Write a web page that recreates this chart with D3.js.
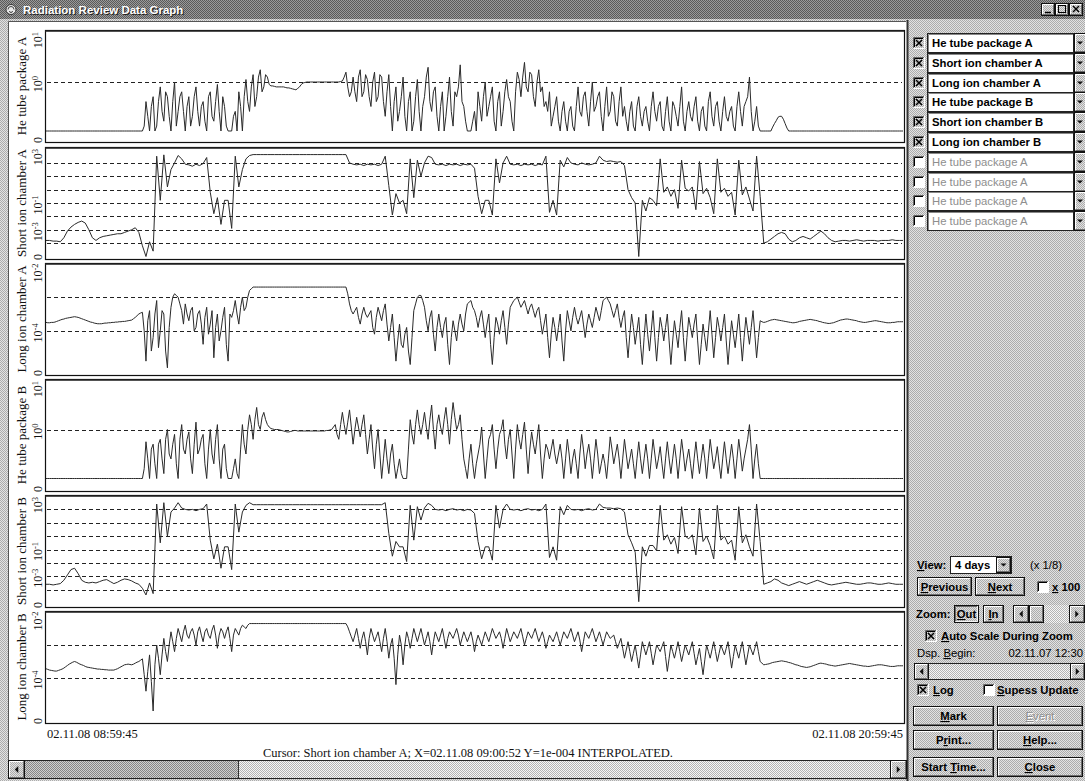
<!DOCTYPE html>
<html>
<head>
<meta charset="utf-8">
<title>Radiation Review Data Graph</title>
<script src="https://cdn.jsdelivr.net/npm/d3@7"></script>
<style>
  html, body { margin: 0; padding: 0; background: #c9c9c9; overflow: hidden; }
  svg { display: block; }
  .ui { font-family: "Liberation Sans", Arial, sans-serif; font-weight: bold; font-size: 11.3px; }
  .serif { font-family: "Liberation Serif", "Times New Roman", serif; }
</style>
</head>
<body>
<svg id="app" width="1085" height="781"></svg>
<script>
// ---- time window and captions ----
const startStamp = "02.11.08 08:59:45";
const endStamp = "02.11.08 20:59:45";
const spanHours = 12;
const cursorText = "Cursor: Short ion chamber A; X=02.11.08 09:00:52 Y=1e-004 INTERPOLATED.";
const displayBegin = "02.11.07 12:30";

const channels = ["He tube package A", "Short ion chamber A", "Long ion chamber A",
                  "He tube package B", "Short ion chamber B", "Long ion chamber B"];
const spareSlots = ["He tube package A", "He tube package A", "He tube package A", "He tube package A"];

// log axis extent (decades) and the decades that carry a label
const decadeRange = [[-1, 1], [-5, 3], [-5, -2], [-1, 1], [-5, 3], [-5, -2]];
const labelledDecades = [[1, 0], [3, -1, -3], [-2, -4], [1, 0], [3, -1, -3], [-2, -4]];

// ---- readings: log10 of each value, one sample every 3 minutes ----
const heTubeA = [
  -1,-1,-1,-1,-1,-1,-1,-1,-1,-1,
  -1,-1,-1,-1,-1,-1,-1,-1,-1,-1,
  -1,-1,-1,-1,-1,-1,-1,-1,-0.4,-1,
  -0.3,-0.9,-0.1,-0.8,-0.3,-1,0,-0.6,-0.2,-1,
  -0.3,-0.7,-0.1,-0.9,-0.4,-1,-0.2,-0.8,-0.05,-1,
  -0.5,-1,-1,-0.6,-0.2,-1,0.05,-0.6,0.15,-0.3,
  0.25,-0.1,0.1,-0.08,-0.09,-0.1,-0.1,-0.11,-0.12,-0.14,
  -0.16,-0.1,-0.02,0,0,0,0,0,0,0,
  0,0,0,0.02,0.2,-0.3,0.1,-0.4,0.25,-0.2,
  0.05,-0.5,0.2,-0.3,0.1,-0.7,0.15,-1,-0.1,-0.6,
  0.1,-1,-0.2,-0.8,0.05,-1,-0.3,0.3,-0.6,-0.1,
  -1,-0.2,-0.7,0.1,-0.9,-0.3,0.35,-0.5,-1,-1,
  -0.6,-0.2,-0.8,0,-0.5,-0.1,-1,-0.2,-0.6,0.05,
  -0.4,-1,0.2,-0.3,0.4,-0.2,0.15,-0.5,0.25,-0.1,
  -0.4,-0.2,-0.7,-0.3,-1,-0.4,-1,-0.5,-1,-0.1,
  -0.7,-0.2,-0.9,0,-0.5,-0.2,-1,-0.1,-0.6,-0.3,
  -0.9,-0.1,-0.5,-1,-0.4,-1,-0.3,-0.9,-0.5,-1,
  -0.2,-0.8,-0.4,-1,-0.3,-1,-0.5,-0.9,-0.1,-1,
  -0.4,-0.8,-0.3,-1,-0.5,-1,-0.2,-0.9,-0.4,-1,
  -0.3,-0.8,-0.5,-1,-0.2,-0.9,-0.4,0.1,-1,-0.5,
  -1,-1,-1,-1,-0.85,-0.72,-0.7,-0.85,-1,-1,
  -1,-1,-1,-1,-1,-1,-1,-1,-1,-1,
  -1,-1,-1,-1,-1,-1,-1,-1,-1,-1,
  -1,-1,-1,-1,-1,-1,-1,-1,-1,-1,
  -1
];
// readings taken half-way between the samples above
const heTubeAHalf = [
  -1,-1,-1,-1,-1,-1,-1,-1,-1,-1,
  -1,-1,-1,-1,-1,-1,-1,-1,-1,-1,
  -1,-1,-1,-1,-1,-1,-1,-0.9,-0.7,-0.5,
  -1,-0.4,-0.6,-0.2,-0.7,-0.4,-0.9,-0.3,-0.6,-0.5,
  -0.9,-0.3,-0.6,-0.5,-0.8,-0.3,-0.7,-0.4,-0.6,-0.3,
  -0.9,-1,-0.7,-1,-0.5,-0.3,-0.4,-0.1,-0.5,0.1,
  -0.2,0.15,-0.05,-0.08,-0.1,-0.1,-0.1,-0.12,-0.13,-0.15,
  -0.13,-0.05,-0.01,0,0,0,0,0,0,0,
  0,0,0.01,0.1,-0.1,-0.2,-0.2,0.1,-0.3,0.15,
  -0.3,0,-0.4,0.15,-0.4,-0.2,-0.5,-0.4,-0.8,-0.3,
  -0.7,-0.4,-1,-0.3,-0.6,-0.5,0.1,-0.4,-0.2,-0.7,
  -0.5,-1,-0.3,-0.6,-0.2,-0.1,-0.4,-0.8,-1,-0.8,
  -1,-0.5,-0.3,-0.7,-0.3,-0.8,-0.4,-0.9,-0.2,-0.3,
  -0.8,-0.2,0.05,0.1,-0.1,0.2,-0.3,0,-0.2,-0.5,
  -0.6,-0.9,-0.5,-0.8,-0.6,-0.8,-0.6,-0.9,-0.5,-0.6,
  -0.3,-0.6,-0.4,-0.6,-0.3,-0.7,-0.5,-0.7,-0.2,-0.8,
  -0.4,-0.7,-0.8,-0.6,-0.9,-0.5,-0.7,-0.6,-0.8,-0.5,
  -0.6,-0.5,-0.9,-0.6,-0.8,-0.4,-0.7,-0.5,-0.8,-0.6,
  -0.7,-0.5,-0.8,-0.6,-0.9,-0.4,-0.7,-0.5,-0.8,-0.6,
  -0.7,-0.6,-0.9,-0.5,-0.6,-0.5,-0.3,-0.6,-0.8,-0.9,
  -1,-1,-1,-0.92,-0.79,-0.7,-0.76,-0.94,-1,-1,
  -1,-1,-1,-1,-1,-1,-1,-1,-1,-1,
  -1,-1,-1,-1,-1,-1,-1,-1,-1,-1,
  -1,-1,-1,-1,-1,-1,-1,-1,-1,-1
];
const shortIonA = [
  -3.8,-3.8,-3.85,-3.85,-3.9,-3.6,-3.1,-2.8,-2.6,-2.45,
  -2.35,-2.5,-3.0,-3.6,-3.8,-3.6,-3.5,-3.45,-3.4,-3.35,
  -3.3,-3.3,-3.2,-3.1,-3.0,-2.85,-3.2,-4.2,-5.0,-3.9,
  -4.6,2.5,-0.8,2.6,0.2,1.5,2.0,2.55,2.3,1.9,
  1.85,1.75,1.9,1.8,1.95,2.4,-0.2,-1.8,-0.6,-2.6,
  -0.8,-0.8,-2.9,2.5,0.2,1.5,2.3,2.55,2.62,2.62,
  2.62,2.62,2.62,2.62,2.62,2.62,2.62,2.62,2.62,2.62,
  2.62,2.62,2.62,2.62,2.62,2.62,2.62,2.62,2.62,2.62,
  2.62,2.62,2.62,2.62,2.62,2.0,1.9,1.85,1.9,1.8,
  1.9,1.85,1.9,1.8,1.9,2.5,0.3,-1.9,-0.3,-1.0,
  -0.8,-1.8,2.3,-0.6,2.2,1.0,2.0,2.5,2.4,1.9,
  1.85,1.9,1.8,1.9,1.85,1.9,1.8,1.9,1.85,1.9,
  1.6,-0.5,-1.8,-0.8,-0.8,-1.9,2.3,0.5,2.0,2.5,
  1.9,1.85,1.9,1.8,1.9,1.85,1.9,1.8,1.9,1.85,
  2.5,-1.7,-0.8,-1.9,2.2,1.7,2.4,2.0,1.9,1.85,
  2.0,1.9,1.85,1.9,2.0,2.5,2.2,2.1,2.15,2.1,
  2.05,2.1,1.8,0.0,-0.6,-1.0,-5.0,-0.8,-1.6,-0.6,
  -0.8,-1.2,2.3,-0.2,0.2,-0.5,0.0,-1.4,2.2,0.1,
  -0.1,0.2,-1.5,2.1,-0.3,0.1,-0.6,-1.8,2.3,-0.2,
  0.1,-0.5,-0.2,-1.9,2.2,-0.4,0.2,-0.7,-1.6,2.5,
  -0.5,-4.0,-3.9,-3.7,-3.5,-3.3,-3.2,-3.3,-3.7,-3.9,
  -3.8,-3.6,-3.5,-3.6,-3.7,-3.5,-3.3,-3.1,-3.3,-3.6,
  -3.8,-3.9,-3.85,-3.8,-3.8,-3.85,-3.8,-3.75,-3.8,-3.85,
  -3.8,-3.8,-3.8,-3.85,-3.8,-3.8,-3.8,-3.75,-3.8,-3.8,
  -3.8
];
const longIonA = [
  -3.75,-3.76,-3.75,-3.72,-3.68,-3.65,-3.62,-3.6,-3.58,-3.6,
  -3.64,-3.68,-3.72,-3.75,-3.78,-3.79,-3.78,-3.77,-3.76,-3.75,
  -3.74,-3.73,-3.72,-3.7,-3.68,-3.6,-3.5,-3.45,-4.9,-3.4,
  -4.2,-3.1,-4.0,-3.5,-5.1,-3.3,-2.9,-3.0,-3.4,-3.2,
  -3.7,-3.3,-3.9,-3.4,-4.4,-3.3,-3.8,-4.8,-3.5,-4.0,
  -3.3,-4.9,-3.6,-3.1,-3.8,-3.0,-3.3,-2.8,-2.7,-2.7,
  -2.7,-2.7,-2.7,-2.7,-2.7,-2.7,-2.7,-2.7,-2.7,-2.7,
  -2.7,-2.7,-2.7,-2.7,-2.7,-2.7,-2.7,-2.7,-2.7,-2.7,
  -2.7,-2.7,-2.7,-2.7,-2.7,-3.2,-3.5,-3.3,-3.8,-3.3,
  -3.6,-3.4,-4.1,-3.3,-3.7,-3.2,-4.3,-3.5,-4.9,-3.8,
  -4.5,-3.9,-5.0,-3.4,-3.0,-2.95,-3.3,-4.0,-3.4,-4.6,
  -3.5,-4.2,-3.6,-5.0,-3.7,-4.3,-3.5,-4.0,-3.2,-3.1,
  -3.4,-3.9,-3.4,-4.2,-3.5,-5.0,-3.6,-4.1,-3.4,-4.4,
  -3.3,-3.1,-3.0,-3.3,-3.1,-3.5,-3.2,-3.6,-3.3,-4.1,
  -3.5,-4.8,-3.6,-4.3,-3.5,-4.9,-3.4,-4.0,-3.3,-3.8,
  -3.4,-4.2,-3.5,-3.9,-3.3,-3.7,-3.1,-3.0,-3.2,-3.6,
  -3.2,-3.9,-3.4,-4.8,-3.5,-4.4,-3.6,-5.0,-3.5,-4.6,
  -3.4,-4.9,-3.6,-4.3,-3.5,-5.0,-3.7,-4.5,-3.4,-4.9,
  -3.6,-4.2,-3.5,-5.0,-3.8,-4.6,-3.4,-4.8,-3.6,-4.3,
  -3.5,-5.0,-3.7,-4.5,-3.5,-4.9,-3.6,-4.4,-3.4,-4.8,
  -3.7,-3.75,-3.72,-3.68,-3.66,-3.68,-3.7,-3.72,-3.74,-3.76,
  -3.75,-3.72,-3.7,-3.68,-3.66,-3.68,-3.7,-3.73,-3.76,-3.78,
  -3.77,-3.74,-3.7,-3.67,-3.65,-3.66,-3.68,-3.7,-3.73,-3.75,
  -3.74,-3.72,-3.7,-3.71,-3.73,-3.75,-3.76,-3.75,-3.74,-3.73,
  -3.73
];
const longIonAHalf = [
  -3.76,-3.75,-3.74,-3.7,-3.66,-3.63,-3.61,-3.59,-3.59,-3.62,
  -3.66,-3.7,-3.74,-3.77,-3.79,-3.79,-3.77,-3.76,-3.75,-3.74,
  -3.73,-3.72,-3.71,-3.69,-3.64,-3.55,-3.47,-4.0,-3.7,-4.6,
  -3.5,-4.5,-3.4,-4.6,-3.9,-3.0,-2.95,-3.2,-3.8,-3.5,
  -3.4,-4.0,-3.5,-3.8,-3.6,-4.1,-3.4,-3.9,-4.3,-3.6,
  -4.4,-3.5,-3.4,-3.5,-3.3,-3.4,-3.0,-2.75,-2.7,-2.7,
  -2.7,-2.7,-2.7,-2.7,-2.7,-2.7,-2.7,-2.7,-2.7,-2.7,
  -2.7,-2.7,-2.7,-2.7,-2.7,-2.7,-2.7,-2.7,-2.7,-2.7,
  -2.7,-2.7,-2.7,-2.7,-2.9,-3.4,-3.4,-3.6,-3.5,-3.5,
  -3.5,-3.9,-3.6,-3.5,-3.4,-3.8,-3.9,-4.2,-4.3,-4.4,
  -4.1,-4.6,-4.2,-3.2,-2.95,-3.1,-3.7,-3.6,-4.1,-3.9,
  -3.9,-3.8,-4.4,-4.2,-4.0,-3.8,-3.8,-3.5,-3.15,-3.3,
  -3.6,-3.6,-3.8,-3.8,-4.4,-4.2,-3.8,-3.7,-3.9,-3.8,
  -3.2,-3.05,-3.15,-3.2,-3.3,-3.3,-3.4,-3.4,-3.7,-3.8,
  -4.2,-4.1,-3.9,-3.9,-4.3,-4.0,-3.7,-3.6,-3.6,-3.6,
  -3.8,-3.8,-3.7,-3.6,-3.5,-3.4,-3.05,-3.1,-3.4,-3.4,
  -3.6,-3.6,-4.2,-4.1,-3.9,-4.0,-4.4,-4.2,-4.1,-4.0,
  -4.2,-4.2,-3.9,-3.9,-4.3,-4.3,-4.1,-3.9,-4.2,-4.2,
  -3.9,-3.8,-4.3,-4.4,-4.2,-4.0,-4.1,-4.2,-3.9,-3.9,
  -4.3,-4.3,-4.1,-4.0,-4.2,-4.2,-4.0,-3.9,-4.1,-4.2,
  -3.73,-3.74,-3.7,-3.67,-3.67,-3.69,-3.71,-3.73,-3.75,-3.76,
  -3.74,-3.71,-3.69,-3.67,-3.67,-3.69,-3.72,-3.75,-3.77,-3.78,
  -3.76,-3.72,-3.68,-3.66,-3.65,-3.67,-3.69,-3.72,-3.74,-3.75,
  -3.73,-3.71,-3.7,-3.72,-3.74,-3.76,-3.76,-3.75,-3.73,-3.73
];
const heTubeB = [
  -1,-1,-1,-1,-1,-1,-1,-1,-1,-1,
  -1,-1,-1,-1,-1,-1,-1,-1,-1,-1,
  -1,-1,-1,-1,-1,-1,-1,-1,-0.25,-1,
  -0.3,-1,-0.2,-0.9,0,-0.6,-0.1,-1,0.1,-0.5,
  -0.05,-0.9,0.15,-0.4,-0.1,-1,0,-0.7,0.1,-1,
  -0.3,-1,-1,-0.6,-1,0.1,-0.5,0.3,-0.2,0.45,
  0,0.35,0.1,0.02,0,0,-0.02,-0.04,-0.05,-0.03,
  -0.02,-0.03,-0.03,-0.03,-0.03,-0.03,-0.03,-0.03,-0.03,-0.02,
  0,0.1,-0.2,0.35,-0.1,0.4,-0.3,0.25,-0.15,0.3,
  -0.5,0.1,-0.8,0,-1,-0.2,-0.9,-0.3,-1,-0.6,
  -1,-1,0.2,-0.3,0.4,-0.1,0.35,-0.2,0.5,-0.4,
  0.3,-0.1,0.45,-0.3,0.55,0,0.3,-0.6,-1,-0.3,
  -1,-0.5,0.05,-1,-0.2,0.1,-0.8,-0.1,0.2,-0.6,
  0,-1,0.1,-0.4,0.15,-0.9,-0.05,-0.5,0.1,-1,
  -0.3,-0.6,-0.2,-0.7,-0.3,-1,-0.2,-0.9,-0.4,-1,
  -0.1,-0.8,-0.3,-1,-0.2,-0.9,-0.5,-1,-0.15,-0.7,
  -0.3,-1,-0.2,-0.8,-0.4,-1,-0.25,-0.9,-0.3,-1,
  -0.2,-0.8,-0.35,-1,-0.25,-0.9,-0.3,-1,-0.2,-0.85,
  -0.4,-1,-0.25,-0.9,-0.3,-1,-0.2,-0.8,-0.35,-1,
  -0.25,-0.9,-0.3,-1,-0.2,-0.85,-0.4,0.1,-1,-0.3,
  -1,-1,-1,-1,-1,-1,-1,-1,-1,-1,
  -1,-1,-1,-1,-1,-1,-1,-1,-1,-1,
  -1,-1,-1,-1,-1,-1,-1,-1,-1,-1,
  -1,-1,-1,-1,-1,-1,-1,-1,-1,-1,
  -1
];
const heTubeBHalf = [
  -1,-1,-1,-1,-1,-1,-1,-1,-1,-1,
  -1,-1,-1,-1,-1,-1,-1,-1,-1,-1,
  -1,-1,-1,-1,-1,-1,-1,-0.8,-0.6,-0.4,
  -0.7,-0.3,-0.6,-0.2,-0.5,-0.3,-0.7,-0.2,-0.4,-0.2,
  -0.6,-0.3,-0.5,-0.2,-0.7,-0.4,-0.5,-0.2,-0.6,-0.4,
  -0.8,-1,-0.8,-0.9,-0.4,-0.3,0,0.1,0.2,0.1,
  0.25,0.2,0.05,0.01,0,-0.01,-0.03,-0.05,-0.04,-0.02,
  -0.03,-0.03,-0.03,-0.03,-0.03,-0.03,-0.03,-0.03,-0.02,-0.01,
  0.05,-0.1,0.1,0.1,0.15,0.05,0,0.05,0.1,-0.1,
  -0.2,-0.4,-0.3,-0.5,-0.6,-0.6,-0.5,-0.7,-0.8,-0.9,
  -1,-0.4,-0.1,0.1,0.1,0.1,0.05,0.2,0,0.1,
  0.05,0.2,0.1,0.2,0.25,0.1,-0.2,-0.8,-0.6,-0.7,
  -0.7,-0.3,-0.5,-0.6,-0.1,-0.4,-0.4,0,-0.3,-0.2,
  -0.5,-0.4,-0.2,-0.1,-0.4,-0.4,-0.3,-0.2,-0.5,-0.6,
  -0.4,-0.4,-0.5,-0.5,-0.6,-0.6,-0.5,-0.6,-0.7,-0.5,
  -0.4,-0.5,-0.6,-0.6,-0.5,-0.7,-0.7,-0.6,-0.4,-0.5,
  -0.6,-0.6,-0.5,-0.6,-0.7,-0.6,-0.6,-0.6,-0.6,-0.6,
  -0.5,-0.6,-0.7,-0.6,-0.6,-0.6,-0.6,-0.6,-0.5,-0.6,
  -0.7,-0.6,-0.6,-0.6,-0.6,-0.6,-0.5,-0.6,-0.7,-0.6,
  -0.6,-0.6,-0.6,-0.6,-0.5,-0.6,-0.2,-0.4,-0.6,-0.7,
  -1,-1,-1,-1,-1,-1,-1,-1,-1,-1,
  -1,-1,-1,-1,-1,-1,-1,-1,-1,-1,
  -1,-1,-1,-1,-1,-1,-1,-1,-1,-1,
  -1,-1,-1,-1,-1,-1,-1,-1,-1,-1
];
const shortIonB = [
  -3.6,-3.6,-3.65,-3.6,-3.55,-3.3,-2.9,-2.5,-2.4,-2.8,
  -3.3,-3.45,-3.5,-3.45,-3.5,-3.4,-3.3,-3.25,-3.4,-3.55,
  -3.45,-3.3,-3.2,-3.25,-3.35,-3.5,-3.6,-3.9,-4.4,-3.5,
  -4.3,2.4,-0.5,2.5,0.0,1.8,2.1,2.5,2.1,2.0,
  1.95,2.0,1.9,2.0,2.05,2.4,-0.3,-1.7,-0.6,-2.4,
  -0.8,-0.8,-2.5,2.4,0.3,1.8,2.3,2.5,2.35,2.35,
  2.35,2.35,2.35,2.35,2.35,2.35,2.35,2.35,2.35,2.35,
  2.35,2.35,2.35,2.35,2.35,2.35,2.35,2.35,2.35,2.35,
  2.35,2.35,2.35,2.35,2.35,2.35,2.35,2.35,2.35,2.35,
  2.35,2.35,2.35,2.35,2.35,2.5,0.2,-1.5,-0.4,-0.8,
  -0.8,-1.9,2.3,-0.3,2.2,1.2,2.1,2.45,2.3,2.0,
  1.95,2.0,1.9,2.0,2.05,1.95,2.0,1.9,2.0,1.95,
  1.7,-0.4,-1.7,-0.8,-0.8,-1.8,2.3,0.6,2.0,2.4,
  2.0,1.95,2.0,1.9,2.0,2.05,1.95,2.0,1.9,2.0,
  2.4,-1.6,-0.8,-1.8,2.2,1.6,2.3,2.0,1.95,2.0,
  1.9,2.0,2.05,1.95,2.0,2.4,2.15,2.1,2.1,2.05,
  2.1,2.05,1.8,0.1,-0.5,-1.2,-4.9,-0.8,-1.5,-0.7,
  -0.7,-1.1,2.3,-0.3,0.1,-0.6,-0.1,-1.3,2.2,0.0,
  -0.2,0.1,-1.4,2.1,-0.4,0.0,-0.7,-1.7,2.3,-0.3,
  0.0,-0.6,-0.3,-1.8,2.2,-0.5,0.1,-0.8,-1.5,2.4,
  -0.4,-3.6,-3.5,-3.4,-3.2,-3.3,-3.5,-3.6,-3.7,-3.6,
  -3.5,-3.4,-3.5,-3.6,-3.5,-3.4,-3.3,-3.4,-3.5,-3.6,
  -3.65,-3.6,-3.55,-3.5,-3.45,-3.5,-3.55,-3.6,-3.6,-3.55,
  -3.5,-3.5,-3.55,-3.6,-3.6,-3.55,-3.5,-3.55,-3.6,-3.6,
  -3.6
];
const longIonB = [
  -3.72,-3.76,-3.78,-3.79,-3.75,-3.7,-3.62,-3.55,-3.5,-3.55,
  -3.6,-3.65,-3.68,-3.7,-3.72,-3.73,-3.74,-3.75,-3.76,-3.76,
  -3.72,-3.66,-3.6,-3.58,-3.6,-3.55,-3.5,-3.42,-4.4,-3.3,
  -5.0,-3.0,-3.9,-2.8,-3.5,-2.6,-3.2,-2.5,-2.9,-2.4,
  -2.8,-2.5,-3.0,-2.45,-2.9,-2.5,-2.8,-2.4,-3.1,-2.5,
  -2.8,-2.45,-3.2,-2.5,-2.7,-2.4,-2.5,-2.35,-2.35,-2.35,
  -2.35,-2.35,-2.35,-2.35,-2.35,-2.35,-2.35,-2.35,-2.35,-2.35,
  -2.35,-2.35,-2.35,-2.35,-2.35,-2.35,-2.35,-2.35,-2.35,-2.35,
  -2.35,-2.35,-2.35,-2.35,-2.35,-2.6,-2.9,-2.5,-3.1,-2.6,
  -3.3,-2.5,-2.9,-2.6,-3.2,-2.5,-3.4,-2.8,-4.2,-2.7,
  -3.6,-2.6,-3.1,-2.5,-2.9,-2.5,-3.0,-2.6,-3.3,-2.6,
  -2.9,-2.5,-3.1,-2.6,-2.8,-2.5,-3.0,-2.6,-2.9,-2.6,
  -3.2,-2.7,-3.0,-2.6,-2.9,-2.5,-2.8,-2.6,-3.1,-2.5,
  -2.9,-2.6,-2.8,-2.5,-3.0,-2.6,-2.8,-2.5,-2.9,-2.6,
  -3.1,-2.7,-2.9,-2.6,-3.0,-2.6,-2.8,-2.5,-2.9,-2.6,
  -3.2,-2.6,-2.8,-2.5,-2.9,-2.6,-3.0,-2.6,-2.8,-2.7,
  -3.1,-2.8,-3.4,-2.9,-3.5,-3.0,-3.7,-2.9,-3.3,-2.9,
  -3.6,-3.0,-3.2,-2.9,-3.8,-3.0,-3.4,-2.9,-3.5,-3.0,
  -3.3,-2.9,-3.6,-3.1,-3.9,-3.0,-3.4,-2.9,-3.5,-3.0,
  -3.3,-2.9,-3.7,-3.0,-3.4,-2.9,-3.6,-3.0,-3.3,-2.9,
  -3.5,-3.6,-3.58,-3.55,-3.52,-3.5,-3.48,-3.5,-3.53,-3.56,
  -3.6,-3.63,-3.66,-3.68,-3.66,-3.62,-3.58,-3.55,-3.57,-3.6,
  -3.62,-3.64,-3.62,-3.6,-3.58,-3.56,-3.58,-3.6,-3.62,-3.64,
  -3.65,-3.64,-3.62,-3.6,-3.6,-3.62,-3.64,-3.65,-3.64,-3.63,
  -3.63
];
const longIonBHalf = [
  -3.74,-3.77,-3.79,-3.77,-3.73,-3.66,-3.58,-3.52,-3.52,-3.58,
  -3.62,-3.67,-3.69,-3.71,-3.73,-3.74,-3.75,-3.76,-3.76,-3.74,
  -3.69,-3.63,-3.59,-3.59,-3.58,-3.52,-3.46,-3.9,-3.8,-4.1,
  -3.6,-3.4,-3.3,-3.2,-3.0,-2.9,-2.8,-2.7,-2.6,-2.7,
  -2.6,-2.7,-2.6,-2.7,-2.6,-2.7,-2.55,-2.7,-2.7,-2.6,
  -2.6,-2.8,-2.7,-2.6,-2.5,-2.45,-2.4,-2.35,-2.35,-2.35,
  -2.35,-2.35,-2.35,-2.35,-2.35,-2.35,-2.35,-2.35,-2.35,-2.35,
  -2.35,-2.35,-2.35,-2.35,-2.35,-2.35,-2.35,-2.35,-2.35,-2.35,
  -2.35,-2.35,-2.35,-2.35,-2.45,-2.75,-2.7,-2.8,-2.8,-2.9,
  -2.8,-2.7,-2.75,-2.9,-2.8,-2.9,-3.0,-3.4,-3.3,-3.0,
  -3.0,-2.8,-2.8,-2.7,-2.7,-2.75,-2.8,-2.9,-2.9,-2.75,
  -2.7,-2.8,-2.8,-2.7,-2.65,-2.7,-2.8,-2.75,-2.75,-2.85,
  -2.9,-2.85,-2.8,-2.75,-2.7,-2.65,-2.7,-2.8,-2.8,-2.7,
  -2.75,-2.7,-2.65,-2.75,-2.8,-2.7,-2.65,-2.7,-2.75,-2.8,
  -2.9,-2.8,-2.75,-2.8,-2.8,-2.7,-2.65,-2.7,-2.75,-2.85,
  -2.9,-2.7,-2.65,-2.7,-2.75,-2.8,-2.8,-2.7,-2.75,-2.9,
  -2.95,-3.1,-3.15,-3.2,-3.25,-3.35,-3.3,-3.1,-3.1,-3.25,
  -3.3,-3.1,-3.05,-3.35,-3.4,-3.2,-3.15,-3.2,-3.25,-3.15,
  -3.1,-3.25,-3.35,-3.5,-3.45,-3.2,-3.15,-3.2,-3.25,-3.15,
  -3.1,-3.3,-3.35,-3.2,-3.15,-3.25,-3.3,-3.15,-3.1,-3.2,
  -3.55,-3.59,-3.57,-3.53,-3.51,-3.49,-3.49,-3.51,-3.54,-3.58,
  -3.61,-3.65,-3.67,-3.67,-3.64,-3.6,-3.56,-3.56,-3.58,-3.61,
  -3.63,-3.63,-3.61,-3.59,-3.57,-3.57,-3.59,-3.61,-3.63,-3.64,
  -3.65,-3.63,-3.61,-3.6,-3.61,-3.63,-3.65,-3.65,-3.63,-3.63
];
const series = [heTubeA, shortIonA, longIonA, heTubeB, shortIonB, longIonB];
const halfSeries = [heTubeAHalf, null, longIonAHalf, heTubeBHalf, null, longIonBHalf];

// ---- layout ----
const W = 1085, H = 781;
const plotLeft = 45, plotRight = 904;
const panelTop = [30, 147, 263, 379, 495, 611];
const panelH = 112;
// pixel inset of the top and bottom decade inside each panel
const decadeInset = [[3, 101], [2.5, 109.5], [0.5, 101.5], [1.5, 99.5], [1, 108], [1, 100]];

const svg = d3.select("#app");
const defs = svg.append("defs");

function dither(id, base, dot) {
  const p = defs.append("pattern").attr("id", id).attr("width", 2).attr("height", 2)
    .attr("patternUnits", "userSpaceOnUse");
  p.append("rect").attr("width", 2).attr("height", 2).attr("fill", base);
  p.append("rect").attr("width", 1).attr("height", 1).attr("fill", dot);
  p.append("rect").attr("x", 1).attr("y", 1).attr("width", 1).attr("height", 1).attr("fill", dot);
}
dither("face", "#e2e2e2", "#acacac");
dither("title", "#9a9a9a", "#5a5a5a");
dither("track", "#f6f6f6", "#b4b4b4");
dither("trackDark", "#cfcfcf", "#868686");

// window face
svg.append("rect").attr("width", W).attr("height", H).attr("fill", "url(#face)");

// ---- title bar ----
svg.append("rect").attr("x", 0).attr("y", 0).attr("width", W).attr("height", 19).attr("fill", "url(#title)");
svg.append("circle").attr("cx", 11).attr("cy", 9.5).attr("r", 5).attr("fill", "#e8e8e8").attr("stroke", "#333");
svg.append("path").attr("d", "M8,9.5 A3,3 0 0 1 14,9.5 M9.5,11 A1.5,1.5 0 0 0 12.5,11")
  .attr("fill", "none").attr("stroke", "#444");
svg.append("text").attr("class", "ui").attr("x", 24).attr("y", 15).attr("fill", "#222")
  .style("font-size", "11.5px").text("Radiation Review Data Graph");
svg.append("text").attr("class", "ui").attr("x", 23).attr("y", 14).attr("fill", "#fff")
  .style("font-size", "11.5px").text("Radiation Review Data Graph");

function bevel(g, x, y, w, h, pressed) {
  g.append("rect").attr("x", x + 0.5).attr("y", y + 0.5).attr("width", w - 1).attr("height", h - 1)
    .attr("fill", "url(#face)").attr("stroke", "#111");
  const hi = pressed ? "#6a6a6a" : "#fff", lo = pressed ? "#f4f4f4" : "#6e6e6e";
  g.append("path").attr("d", `M${x + 1.5},${y + h - 2}V${y + 1.5}H${x + w - 2}`)
    .attr("fill", "none").attr("stroke", hi);
  g.append("path").attr("d", `M${x + 1.5},${y + h - 1.5}H${x + w - 1.5}V${y + 1.5}`)
    .attr("fill", "none").attr("stroke", lo);
}

// caption buttons
[[1041, "min"], [1055, "max"], [1069, "close"]].forEach(([bx, kind]) => {
  const g = svg.append("g");
  bevel(g, bx, 3, 14, 13, false);
  if (kind === "min") g.append("path").attr("d", `M${bx + 4},${12.5}H${bx + 10}`).attr("stroke", "#000").attr("stroke-width", 1.5);
  if (kind === "max") g.append("rect").attr("x", bx + 3.5).attr("y", 5.5).attr("width", 7).attr("height", 7).attr("fill", "none").attr("stroke", "#000");
  if (kind === "close") g.append("path").attr("d", `M${bx + 4},6L${bx + 10},12M${bx + 10},6L${bx + 4},12`).attr("stroke", "#000").attr("stroke-width", 1.4);
});

// ---- graph area ----
svg.append("rect").attr("x", 8).attr("y", 21).attr("width", 899).attr("height", 739).attr("fill", "#fff");
svg.append("path").attr("d", "M8.5,760V21.5H906").attr("fill", "none").attr("stroke", "#555");
svg.append("path").attr("d", "M907.5,20V781").attr("stroke", "#333").attr("stroke-width", 2);

const x = d3.scaleLinear().domain([0, spanHours]).range([plotLeft + 1, plotRight - 1]);

function tickLabel(g, cx, cy, exponent) {
  const t = g.append("text").attr("class", "serif")
    .attr("transform", `translate(${cx},${cy}) rotate(-90)`)
    .attr("text-anchor", "middle").style("font-size", "12px").attr("fill", "#111");
  if (exponent === null) { t.text("0"); return; }
  t.append("tspan").text("10");
  t.append("tspan").attr("dy", "-0.45em").style("font-size", "8.5px").text(String(exponent));
}

// merge the regular samples with the half-step readings (where recorded)
function samplesOf(k) {
  const vals = series[k], half = halfSeries[k], n = vals.length;
  const step = spanHours / (n - 1);
  const pts = [];
  vals.forEach((v, i) => {
    pts.push([i * step, Math.pow(10, v)]);
    if (half && i < half.length) pts.push([(i + 0.5) * step, Math.pow(10, half[i])]);
  });
  return pts;
}

channels.forEach((name, k) => {
  const T = panelTop[k];
  const [lo, hi] = decadeRange[k];
  const y = d3.scaleLog().domain([Math.pow(10, lo), Math.pow(10, hi)])
    .range([T + decadeInset[k][1], T + decadeInset[k][0]]);
  const g = svg.append("g");

  defs.append("clipPath").attr("id", "clip" + k).append("rect")
    .attr("x", plotLeft + 1).attr("y", T + 1).attr("width", plotRight - plotLeft - 2).attr("height", panelH - 2);

  g.append("rect").attr("x", plotLeft + 0.5).attr("y", T + 0.5)
    .attr("width", plotRight - plotLeft).attr("height", panelH)
    .attr("fill", "#fff").attr("stroke", "#111").attr("stroke-width", 1.2);
  g.append("line").attr("x1", plotLeft).attr("x2", plotRight).attr("y1", T + 1).attr("y2", T + 1)
    .attr("stroke", "#222").attr("stroke-width", 1.5);

  // decade grid
  d3.range(lo + 1, hi).forEach(e => {
    const gy = Math.round(y(Math.pow(10, e))) + 0.5;
    g.append("line").attr("x1", plotLeft + 2).attr("x2", plotRight - 2).attr("y1", gy).attr("y2", gy)
      .attr("stroke", "#222").attr("stroke-dasharray", "4,3");
  });

  // trace
  g.append("path").datum(samplesOf(k))
    .attr("clip-path", `url(#clip${k})`)
    .attr("d", d3.line().x(d => x(d[0])).y(d => y(d[1])))
    .attr("fill", "none").attr("stroke", "#2a2a2a").attr("stroke-width", 1).attr("stroke-linejoin", "round");

  // channel name
  g.append("text").attr("class", "serif")
    .attr("transform", `translate(26,${T + 56}) rotate(-90)`)
    .attr("text-anchor", "middle").style("font-size", "13px").attr("fill", "#111").text(name);

  // decade labels
  labelledDecades[k].forEach(e => {
    let cy = y(Math.pow(10, e)) + 2;
    cy = Math.max(cy, T + 10);
    tickLabel(g, 42, cy, e);
  });
  tickLabel(g, 42, T + 110, null);
});

// time stamps and cursor readout
svg.append("text").attr("class", "serif").attr("x", plotLeft + 2).attr("y", 738)
  .style("font-size", "12.5px").attr("fill", "#111").text(startStamp);
svg.append("text").attr("class", "serif").attr("x", plotRight - 1).attr("y", 738)
  .attr("text-anchor", "end").style("font-size", "12.5px").attr("fill", "#111").text(endStamp);
svg.append("text").attr("class", "serif").attr("x", 468).attr("y", 757)
  .attr("text-anchor", "middle").style("font-size", "12.5px").attr("fill", "#111").text(cursorText);

// ---- scroll bars ----
function arrow(g, cx, cy, dir, size) {
  const s = size || 3.5;
  const d = {
    left: `M${cx + s / 2},${cy - s}L${cx - s / 2},${cy}L${cx + s / 2},${cy + s}Z`,
    right: `M${cx - s / 2},${cy - s}L${cx + s / 2},${cy}L${cx - s / 2},${cy + s}Z`,
    down: `M${cx - s},${cy - s / 2}L${cx + s},${cy - s / 2}L${cx},${cy + s / 2}Z`
  }[dir];
  g.append("path").attr("d", d).attr("fill", "#111");
}
function hscroll(x0, y0, w, h, darkTo) {
  const g = svg.append("g");
  g.append("rect").attr("x", x0).attr("y", y0).attr("width", w).attr("height", h).attr("fill", "url(#track)");
  if (darkTo) g.append("rect").attr("x", x0).attr("y", y0).attr("width", darkTo - x0).attr("height", h).attr("fill", "url(#trackDark)");
  g.append("rect").attr("x", x0 + 0.5).attr("y", y0 + 0.5).attr("width", w - 1).attr("height", h - 1)
    .attr("fill", "none").attr("stroke", "#222");
  bevel(g, x0, y0, h - 2, h, false);
  arrow(g, x0 + (h - 2) / 2, y0 + h / 2, "left");
  bevel(g, x0 + w - h + 2, y0, h - 2, h, false);
  arrow(g, x0 + w - h / 2 + 1, y0 + h / 2, "right");
  return g;
}
hscroll(8, 760, 899, 19, 238);
svg.append("line").attr("x1", 238.5).attr("x2", 238.5).attr("y1", 761).attr("y2", 778).attr("stroke", "#333");

// ---- channel list ----
function checkbox(cx, cy, checked) {
  const g = svg.append("g");
  g.append("rect").attr("x", cx).attr("y", cy).attr("width", 11).attr("height", 11)
    .attr("fill", checked ? "url(#face)" : "#fff");
  g.append("path").attr("d", `M${cx + 0.5},${cy + 11}V${cy + 0.5}H${cx + 11}`).attr("stroke", "#666").attr("fill", "none");
  g.append("path").attr("d", `M${cx + 1.5},${cy + 10}V${cy + 1.5}H${cx + 10}`).attr("stroke", "#000").attr("fill", "none");
  g.append("path").attr("d", `M${cx + 0.5},${cy + 11.5}H${cx + 11.5}V${cy}`).attr("stroke", "#fff").attr("fill", "none");
  if (checked) g.append("path").attr("d", `M${cx + 3},${cy + 3}L${cx + 9},${cy + 9}M${cx + 9},${cy + 3}L${cx + 3},${cy + 9}`)
    .attr("stroke", "#000").attr("stroke-width", 1.5);
}
function uiText(g, tx, ty, label, opts) {
  opts = opts || {};
  const t = g.append("text").attr("class", "ui").attr("x", tx).attr("y", ty)
    .attr("text-anchor", opts.anchor || "start").attr("fill", opts.fill || "#000");
  if (opts.weight) t.style("font-weight", opts.weight);
  const parts = label.split("&");
  t.append("tspan").text(parts[0]);
  if (parts.length > 1) {
    t.append("tspan").attr("text-decoration", "underline").text(parts[1][0]);
    t.append("tspan").text(parts[1].slice(1));
  }
  return t;
}
const listEntries = channels.map(c => ({ name: c, on: true }))
  .concat(spareSlots.map(c => ({ name: c, on: false })));
listEntries.forEach((entry, i) => {
  const top = Math.round(33 + 19.8 * i);
  const g = svg.append("g");
  checkbox(913, top + 4, entry.on);
  g.append("rect").attr("x", 927.5).attr("y", top + 0.5).attr("width", 146).attr("height", 19)
    .attr("fill", "#fff").attr("stroke", "#222");
  g.append("path").attr("d", `M928.5,${top + 19}V${top + 1.5}H1073`).attr("stroke", "#888").attr("fill", "none");
  if (entry.on) {
    uiText(g, 932, top + 14, entry.name);
  } else {
    uiText(g, 933, top + 15, entry.name, { fill: "#fff", weight: "normal" });
    uiText(g, 932, top + 14, entry.name, { fill: "#8e8e8e", weight: "normal" });
  }
  bevel(g, 1074, top, 13, 20, false);
  arrow(g, 1080, top + 10, "down", 3);
});

// ---- view controls ----
const panel = svg.append("g");
uiText(panel, 917, 569, "&View:");
panel.append("rect").attr("x", 950.5).attr("y", 556.5).attr("width", 61).attr("height", 17)
  .attr("fill", "#fff").attr("stroke", "#222");
uiText(panel, 955, 569, "4 days");
bevel(panel, 996, 557, 15, 16, false);
arrow(panel, 1003.5, 565, "down", 3);
uiText(panel, 1030, 569, "(x 1/8)", { weight: "normal" });

const bPrev = svg.append("g"); bevel(bPrev, 917, 577, 55, 19, false); uiText(bPrev, 944.5, 591, "&Previous", { anchor: "middle" });
const bNext = svg.append("g"); bevel(bNext, 975, 577, 50, 19, false); uiText(bNext, 1000, 591, "&Next", { anchor: "middle" });
checkbox(1037, 581, false);
uiText(panel, 1052, 591, "&x 100");

uiText(panel, 916, 618, "Zoom:");
const bOut = svg.append("g"); bevel(bOut, 954, 605, 25, 18, true); uiText(bOut, 966.5, 618, "&Out", { anchor: "middle" });
const bIn = svg.append("g"); bevel(bIn, 983, 605, 21, 18, false); uiText(bIn, 993.5, 618, "&In", { anchor: "middle" });
const zs = svg.append("g");
zs.append("rect").attr("x", 1013).attr("y", 605).attr("width", 72).attr("height", 18).attr("fill", "url(#track)");
bevel(zs, 1013, 605, 16, 18, false); arrow(zs, 1021, 614, "left");
bevel(zs, 1029, 605, 15, 18, false);
bevel(zs, 1069, 605, 16, 18, false); arrow(zs, 1077, 614, "right");

checkbox(925, 630, true);
uiText(panel, 941, 640, "&Auto Scale During Zoom");
uiText(panel, 917, 657, "Dsp. &Begin:", { weight: "normal" });
uiText(panel, 1083, 657, displayBegin, { anchor: "end", weight: "normal" });
hscroll(914, 663, 171, 17, null);
checkbox(917, 684, true);
uiText(panel, 933, 694, "&Log");
checkbox(983, 684, false);
uiText(panel, 997, 694, "&Supess Update");

// command buttons
[
  [913, 706, "&Mark", false], [997, 706, "&Event", true],
  [913, 730, "P&rint...", false], [997, 730, "&Help...", false],
  [913, 757, "Start &Time...", false], [997, 757, "&Close", false]
].forEach(([bx, by, label, disabled]) => {
  const g = svg.append("g");
  bevel(g, bx, by, bx < 990 ? 81 : 86, 20, false);
  const cx = bx + (bx < 990 ? 40.5 : 43);
  if (disabled) {
    uiText(g, cx + 1, by + 15, label, { anchor: "middle", fill: "#fff", weight: "normal" });
    uiText(g, cx, by + 14, label, { anchor: "middle", fill: "#8e8e8e", weight: "normal" });
  } else {
    uiText(g, cx, by + 14, label, { anchor: "middle" });
  }
});
</script>
</body>
</html>
